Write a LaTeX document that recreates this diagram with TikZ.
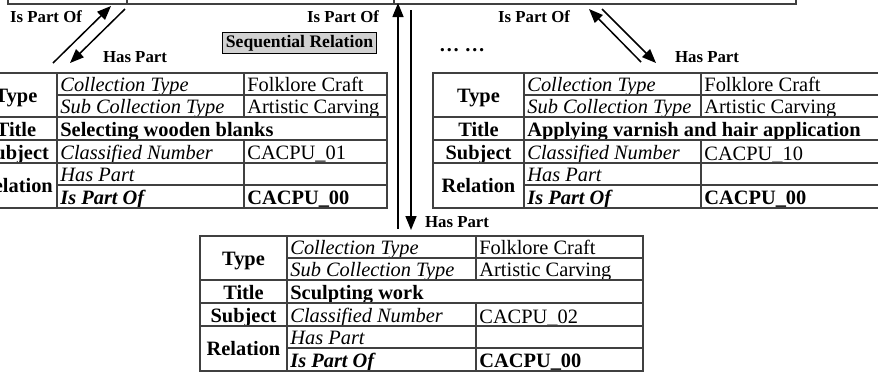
\documentclass[tikz,border=0pt]{standalone}
\usepackage{fontspec}
\setmainfont{Liberation Serif}
\usetikzlibrary{arrows.meta}

\newcommand\tablefont{\fontsize{10.2}{12}\selectfont}
\newcommand\labelfont{\fontsize{8.4}{10}\selectfont\bfseries}

\tikzset{
  grid/.style={draw=black!75, line width=0.7pt},
  cell/.style={inner sep=0pt, anchor=base west, font=\tablefont},
  head/.style={inner sep=0pt, anchor=base, font=\tablefont\bfseries},
  rel/.style={inner sep=0pt, font=\labelfont},
  link/.style={line width=0.75pt, -{Triangle[length=7pt,width=5.5pt]}},
  seqbox/.style={draw=black, line width=0.5pt, fill=black!18, inner sep=1.5pt,
                 font=\fontsize{8.8}{10}\selectfont\bfseries},
}

% One metadata record: #1 name prefix, #2 left edge, #3 first divider,
% #4 second divider, #5 right edge, #6 top edge, #7 title, #8 number,
% #9 distance of the number's baseline above the row line
\newcommand\recordtable[9]{%
  \node[head] (#1-type)     at ({(#2+#3)/2},#6+29.5)  {Type};
  \node[head] (#1-title)    at ({(#2+#3)/2},#6+63.5)  {Title};
  \node[head] (#1-subject)  at ({(#2+#3)/2},#6+86.5)  {Subject};
  \node[head] (#1-relation) at ({(#2+#3)/2},#6+119.5) {Relation};
  \node[cell] (#1-ct)  at (#3+3,#6+18.5)  {\itshape Collection Type};
  \node[cell] (#1-sct) at (#3+3,#6+40.5)  {\itshape Sub Collection Type};
  \node[cell] (#1-ttl) at (#3+3,#6+63.5)  {\bfseries #7};
  \node[cell] (#1-cn)  at (#3+3,#6+86.5)  {\itshape Classified Number};
  \node[cell] (#1-hp)  at (#3+3,#6+108.5) {\itshape Has Part};
  \node[cell] (#1-ipo) at (#3+3,#6+131.5) {\bfseries\itshape Is Part Of};
  \node[cell] (#1-fc)  at (#4+3,#6+18.5)  {Folklore Craft};
  \node[cell] (#1-ac)  at (#4+3,#6+40.5)  {Artistic Carving};
  \node[cell] (#1-num) at (#4+3,#6+90-#9) {#8};
  \node[cell] (#1-par) at (#4+3,#6+131.5) {\bfseries CACPU\_00};
  \draw[grid] (#2,#6) rectangle (#5,#6+135);
  \draw[grid] (#2,#6+44) -- (#5,#6+44) (#2,#6+67) -- (#5,#6+67)
              (#2,#6+90) -- (#5,#6+90);
  \draw[grid] (#3,#6+22) -- (#5,#6+22) (#3,#6+112) -- (#5,#6+112);
  \draw[grid] (#3,#6) -- (#3,#6+135) (#4,#6) -- (#4,#6+44)
              (#4,#6+67) -- (#4,#6+135);
}

\begin{document}
\begin{tikzpicture}[x=0.5pt,y=-0.5pt]
\useasboundingbox (0,0) rectangle (878,377);
\clip (0,0) rectangle (878,377);

% parent record, only its lower edge is in view
\draw[grid] (8,-6) -- (8,4) -- (796,4) -- (796,-6);
\draw[grid] (127,-6) -- (127,4) (394,-6) -- (394,4);

% child records
\recordtable{left}{-25}{57}{244}{387}{73}{Selecting wooden blanks}{CACPU\_01}{3.8}
\recordtable{right}{433}{524}{701}{900}{73}{Applying varnish and hair application}{CACPU\_10}{2.4}
\recordtable{mid}{200}{287}{476}{643}{236}{Sculpting work}{CACPU\_02}{2.4}

% relation labels
\node[rel] (l-ipo) at (46,17)  {Is Part Of};
\node[rel] (l-hp)  at (135,57) {Has Part};
\node[seqbox] (seq) at (299.5,43) {Sequential Relation};
\node[rel] (m-ipo) at (343,17) {Is Part Of};
\node[inner sep=0pt, font=\tablefont\bfseries] (dots) at (462,50) {… …};
\node[rel] (r-ipo) at (534,17) {Is Part Of};
\node[rel] (r-hp)  at (707,57) {Has Part};
\node[rel] (m-hp)  at (457,222) {Has Part};

% arrow end points
\coordinate (la1) at (53,63);   \coordinate (la2) at (111,6);
\coordinate (lb1) at (125,9);   \coordinate (lb2) at (70,63);
\coordinate (ra1) at (641,62);  \coordinate (ra2) at (589,9);
\coordinate (rb1) at (602,9);   \coordinate (rb2) at (656,63);
\coordinate (mu1) at (398,229); \coordinate (mu2) at (398,3);
\coordinate (md1) at (411,10);  \coordinate (md2) at (411,230);

\draw[link] (la1) -- (la2);
\draw[link] (lb1) -- (lb2);
\draw[link] (ra1) -- (ra2);
\draw[link] (rb1) -- (rb2);
\draw[link] (mu1) -- (mu2);
\draw[link] (md1) -- (md2);
\end{tikzpicture}
\end{document}
